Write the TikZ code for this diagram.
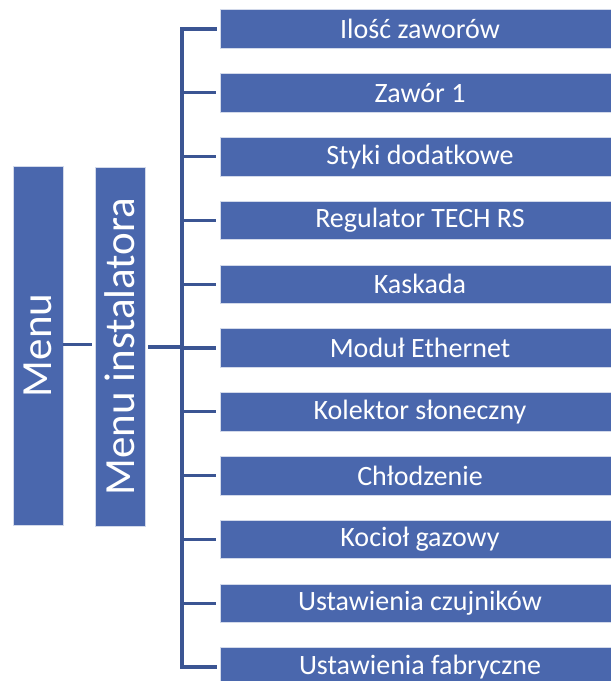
\documentclass[tikz,border=0pt]{standalone}
\usepackage{fontspec}
\setmainfont{Carlito}
\usetikzlibrary{positioning}
\definecolor{mblue}{RGB}{74,103,173}
\definecolor{mline}{RGB}{59,85,147}
\tikzset{box/.style = {fill=mblue, draw=white!75!mblue, line width=0.6pt,
                       text=white, inner sep=0pt}}
\tikzset{tallbox/.style = {box, rotate=90, minimum width=359pt, minimum height=50pt,
                           font=\fontsize{43}{45}\selectfont}}
\tikzset{itembox/.style = {box, minimum width=400pt, minimum height=38.5pt,
                           font=\fontsize{28}{30}\selectfont}}
\tikzset{link/.style = {draw=mline, line width=3.2pt}}

\begin{document}
\begin{tikzpicture}[x=1pt, y=-1pt]
    \useasboundingbox (0, 0) rectangle (611, 681);

    \node [tallbox] (menu) at (38, 345.5) {Menu};
    \node [tallbox] (inst) at (120, 346.5) {Menu instalatora};

    \foreach \name [count=\i] in {Ilość zaworów, Zawór 1, Styki dodatkowe,
        Regulator TECH RS, Kaskada, Moduł Ethernet, Kolektor słoneczny,
        Chłodzenie, Kocioł gazowy, Ustawienia czujników, Ustawienia fabryczne}
      \node [itembox] (item\i) at (420, 29 + 63.8 * \i - 63.8) {\name};

    \coordinate (bus) at (182, 347);

    \draw [link] (menu.south |- 0, 344.5) -- (92, 344.5);
    \draw [link, shorten <=3pt] (inst.south |- bus) -- (bus);
    \draw [link, line cap=rect] ([xshift=-4pt]item1.west) -| (bus)
          |- ([xshift=-4pt]item11.west);
    \foreach \i in {2, ..., 10}
      \draw [link, shorten >=4pt] (item\i.west -| bus) -- (item\i.west);
  \end{tikzpicture}
\end{document}
